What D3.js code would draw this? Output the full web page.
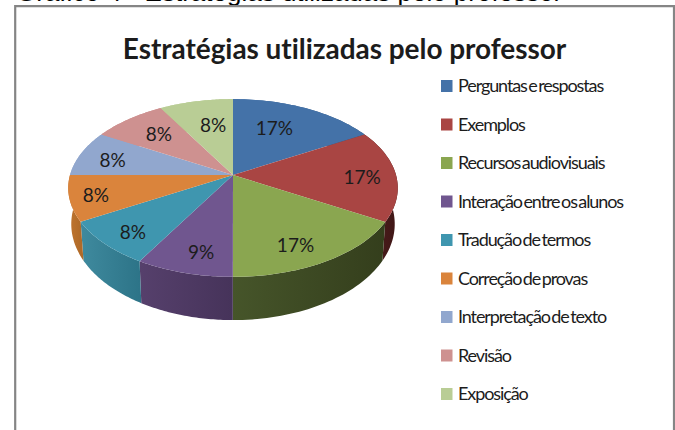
<!DOCTYPE html>
<html>
<head>
<meta charset="utf-8">
<script src="https://cdn.jsdelivr.net/npm/d3@7"></script>
<style>
  html, body { margin: 0; padding: 0; background: #fff; overflow: hidden; }
  text { font-family: Lato, "Open Sans", sans-serif; fill: #1c1c1c; }
</style>
</head>
<body>
<div id="chart"></div>
<script>
const categories = ["Perguntas e respostas", "Exemplos", "Recursos audiovisuais", "Interação entre os alunos",
    "Tradução de termos", "Correção de provas", "Interpretação de texto", "Revisão", "Exposição"];
// the slices are really 2:2:2:1:1:1:1:1:1, the printed labels are rounded
const shares = [16.67, 16.67, 16.67, 8.33, 8.33, 8.33, 8.33, 8.33, 8.33];
const percentLabels = ["17%", "17%", "17%", "9%", "8%", "8%", "8%", "8%", "8%"];
const caption = "Gráfico 4 - Estratégias utilizadas pelo professor";
const title = "Estratégias utilizadas pelo professor";

const topColors = ["#4472a8", "#a94543", "#8aa650", "#70568f", "#3f96af", "#da843c", "#91a7ce", "#ce9190", "#b9cd95"];
const wallLight = ["#4472a8", "#4f1f1e", "#46552a", "#56406c", "#3f8a9e", "#c0752f", "#91a7ce", "#ce9190", "#b9cd95"];
const wallDark = ["#2e5078", "#3f1616", "#343e1c", "#46335a", "#2d7488", "#b06a28", "#91a7ce", "#ce9190", "#b9cd95"];
const labelNudge = [[-11, 1.5], [15, 2], [0, 12], [1, 12], [-13, 10.5], [-24, 4], [-13, 1], [1, 0], [7, 4]];

const width = 675, height = 430;
const cx = 233, cy = 175;
const tilt = 0.146;

const svg = d3.select('#chart').append('svg')
    .attr('width', width)
    .attr('height', height)
    .style('display', 'block');

// perspective: top disc is bigger towards the viewer
function topPoint(a, r = 1) {
    const u = Math.sin(a) * r, v = Math.cos(a) * r;
    const w = 1 + tilt * v;
    return [cx + 163 * u / w, cy - 87 * v / w];
}
function bottomPoint(a) {
    const u = Math.sin(a), v = Math.cos(a);
    const w = 1 + tilt * v;
    return [cx + 160 * u / w, 210 - 94 * v / w];
}

const arcs = d3.pie().sort(null).value(d => d)(shares);
const line = d3.line();

function arcAngles(d) {
    return d3.range(0, 41).map(i => d.startAngle + (d.endAngle - d.startAngle) * i / 40);
}

const defs = svg.append('defs');

// caption of the page, cut off by the top edge in the original too
svg.append('text')
    .attr('x', 16)
    .attr('y', 0.5)
    .style('font-family', '"Liberation Sans", Arial, sans-serif')
    .style('font-size', '26px')
    .style('fill', '#000')
    .text(caption);

svg.append('path')
    .attr('d', `M15.2,${height}V6.2H674V${height}`)
    .attr('fill', 'none')
    .attr('stroke', '#858585')
    .attr('stroke-width', 2.2);

svg.append('text')
    .attr('x', 344.5)
    .attr('y', 58.5)
    .attr('text-anchor', 'middle')
    .style('font-size', '28px')
    .style('font-weight', 700)
    .style('letter-spacing', '-0.05px')
    .text(title);

// side walls first, the top disc covers whatever is behind
const walls = svg.append('g');
arcs.forEach((d, i) => {
    const angles = arcAngles(d);
    const topEdge = angles.map(a => topPoint(a));
    const bottomEdge = angles.map(bottomPoint).reverse();
    const xs = d3.extent(topEdge, p => p[0]);
    const grad = defs.append('linearGradient')
        .attr('id', `wall-${i}`)
        .attr('gradientUnits', 'userSpaceOnUse')
        .attr('x1', xs[0]).attr('x2', xs[1])
        .attr('y1', 0).attr('y2', 0);
    grad.append('stop').attr('offset', 0).attr('stop-color', wallLight[i]);
    grad.append('stop').attr('offset', 1).attr('stop-color', wallDark[i]);
    walls.append('path')
        .attr('d', line(topEdge.concat(bottomEdge)) + 'Z')
        .attr('fill', `url(#wall-${i})`);
});

svg.append('g')
    .selectAll('path')
    .data(arcs)
    .join('path')
    .attr('d', d => line([[cx, cy]].concat(arcAngles(d).map(a => topPoint(a)))) + 'Z')
    .attr('fill', (d, i) => topColors[i]);

svg.append('g')
    .selectAll('text')
    .data(arcs)
    .join('text')
    .attr('x', (d, i) => topPoint((d.startAngle + d.endAngle) / 2, 0.7)[0] + labelNudge[i][0])
    .attr('y', (d, i) => topPoint((d.startAngle + d.endAngle) / 2, 0.7)[1] + labelNudge[i][1])
    .attr('text-anchor', 'middle')
    .attr('dy', '0.35em')
    .style('font-size', '19px')
    .text((d, i) => percentLabels[i]);

// legend
const legendY = d3.scalePoint().domain(categories).range([86, 394]);
const legend = svg.append('g')
    .selectAll('g')
    .data(categories)
    .join('g')
    .attr('transform', d => `translate(441,${legendY(d)})`);

legend.append('rect')
    .attr('y', -6)
    .attr('width', 11.5)
    .attr('height', 12)
    .attr('fill', (d, i) => topColors[i]);

legend.append('text')
    .attr('x', 17)
    .attr('dy', '0.35em')
    .style('font-size', '18px')
    .style('letter-spacing', '-1.1px')
    .style('word-spacing', '-2px')
    .text(d => d);
</script>
</body>
</html>
